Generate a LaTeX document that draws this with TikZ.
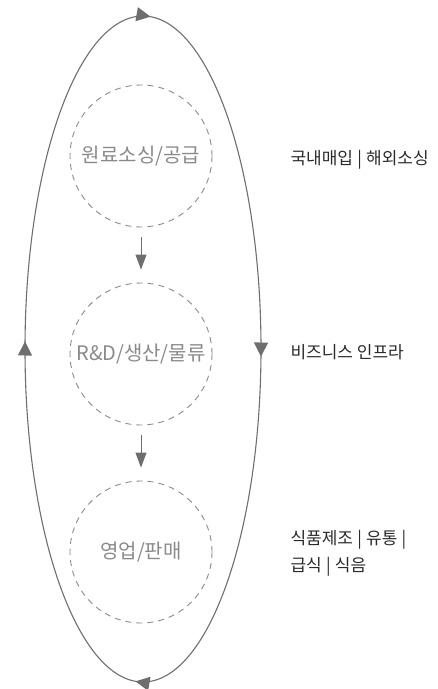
\documentclass[tikz,border=0pt]{standalone}
\usepackage{fontspec}
\setmainfont{Noto Sans CJK KR}
\usepackage{xcolor}
\usetikzlibrary{arrows.meta,decorations.markings}
\definecolor{loopgray}{HTML}{6E6E6E}
\definecolor{stagegray}{HTML}{8A8A8A}
\definecolor{notegray}{HTML}{2A2A2A}
\newcommand{\sepbar}{\hspace{.25em}|\hspace{.25em}}

\begin{document}
\begin{tikzpicture}[x=1pt,y=-1pt,
    stage/.style={circle,draw=stagegray,dashed,dash pattern=on 6pt off 5pt,
      line width=.9pt,minimum size=142pt,inner sep=0pt,
      text=stagegray,font=\fontsize{20}{24}\selectfont},
    flow/.style={-{Triangle[length=15pt,width=11pt]},draw=loopgray,line width=1pt,
      shorten <=10pt,shorten >=13pt},
    note/.style={anchor=west,align=left,text=notegray,
      font=\fontsize{17}{27}\selectfont}]
    \useasboundingbox (0,0) rectangle (437,689);
    % outer cycle
    \draw[loopgray,line width=1.1pt,
      decoration={markings,
        mark=at position 0.005 with {\arrow{Triangle[length=14pt,width=14pt]}},
        mark=at position 0.255 with {\arrow{Triangle[length=14pt,width=14pt]}},
        mark=at position 0.505 with {\arrow{Triangle[length=14pt,width=14pt]}},
        mark=at position 0.755 with {\arrow{Triangle[length=14pt,width=14pt]}}},
      postaction={decorate}] (143,349) ellipse[x radius=118,y radius=333];
    % stages
    \node[stage] (sourcing) at (141,156) {원료소싱/공급};
    \node[stage] (production) at (141,354) {R\&D/생산/물류};
    \node[stage] (sales) at (141,552) {영업/판매};
    \draw[flow] (sourcing) -- (production);
    \draw[flow] (production) -- (sales);
    % notes
    \node[note] (domestic) at (287,160) {국내매입\sepbar 해외소싱};
    \node[note] (infra) at (287,352) {비즈니스 인프라};
    \node[note] (markets) at (287,553) {식품제조\sepbar 유통\sepbar\\급식\sepbar 식음};
\end{tikzpicture}
\end{document}
